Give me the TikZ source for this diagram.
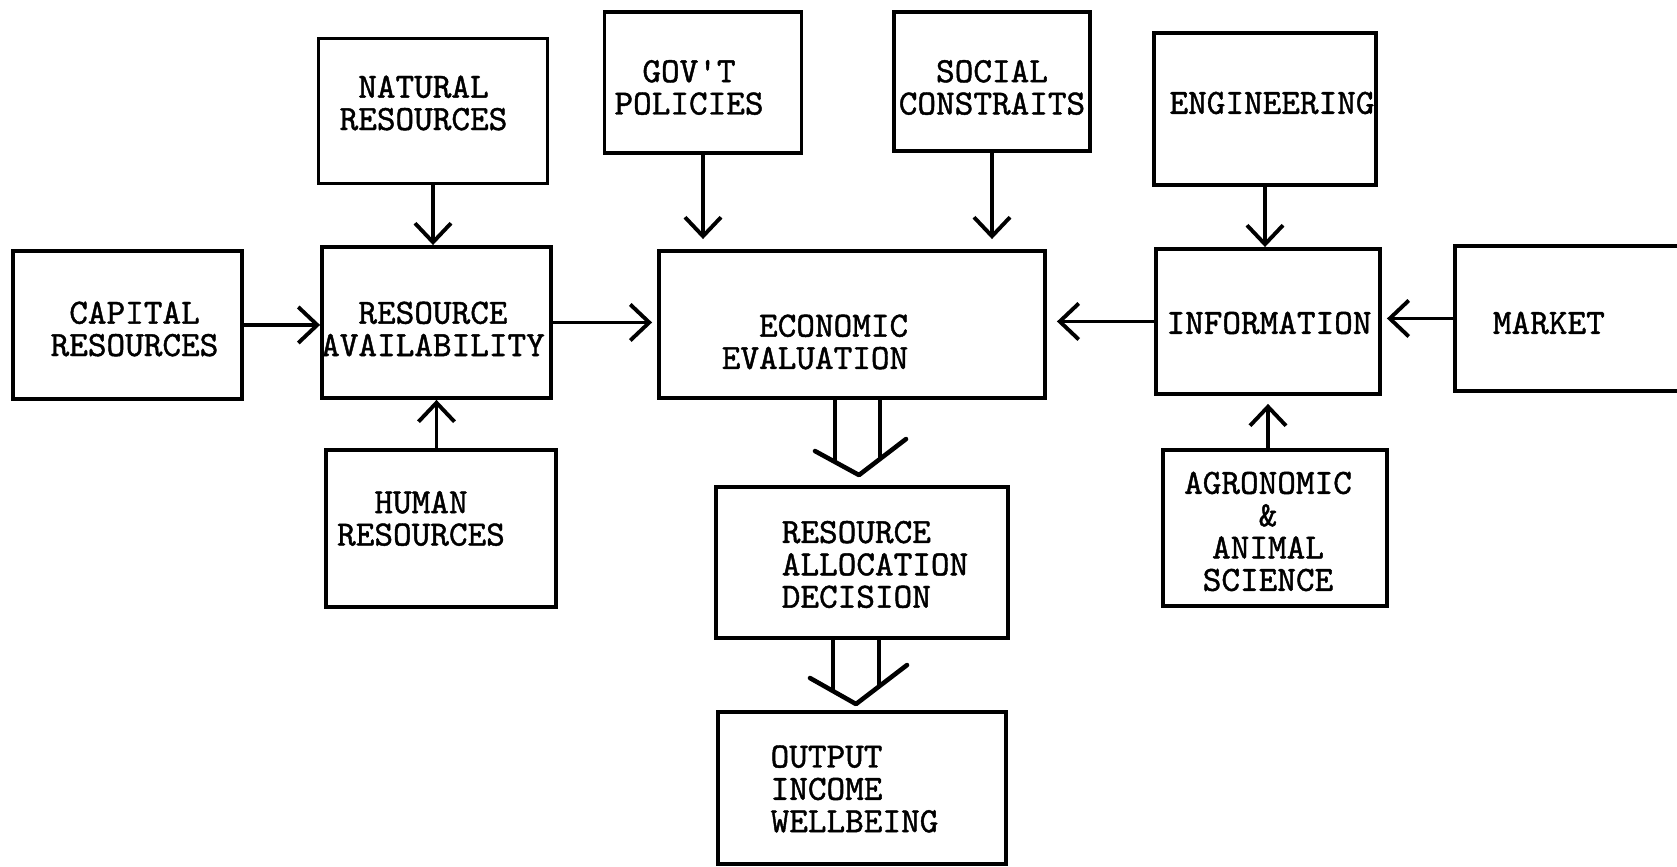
\documentclass[tikz,border=0pt]{standalone}
\usepackage{fontspec}
\newfontfamily\typew{Latin Modern Mono}[FakeBold=1.2]
\usepackage{tikz}
\usetikzlibrary{calc,arrows.meta,positioning}

\begin{document}
\begin{tikzpicture}[>={Straight Barb[length=1.9mm,width=3.6mm]}, line width=1.1pt,
  blk/.style={draw, rectangle, inner sep=0pt},
  txt/.style={align=center, inner sep=0pt, font=\typew\fontsize{10.1}{9.2}\selectfont}]
  \useasboundingbox (0,0) rectangle (16.77,8.67);
  \clip (0,0) rectangle (16.77,8.67);

   \node[blk, minimum width=2.29cm, minimum height=1.45cm] (NAT) at (4.33,7.56) {};
   \node[blk, minimum width=1.97cm, minimum height=1.41cm] (GOV) at (7.03,7.845) {};
   \node[blk, minimum width=1.96cm, minimum height=1.39cm] (SOC) at (9.92,7.855) {};
   \node[blk, minimum width=2.22cm, minimum height=1.52cm] (ENG) at (12.65,7.58) {};
   \node[blk, minimum width=2.29cm, minimum height=1.48cm] (CAP) at (1.275,5.42) {};
   \node[blk, minimum width=2.29cm, minimum height=1.51cm] (RA) at (4.365,5.445) {};
   \node[blk, minimum width=3.86cm, minimum height=1.47cm] (EE) at (8.52,5.425) {};
   \node[blk, minimum width=2.24cm, minimum height=1.45cm] (INF) at (12.68,5.455) {};
   \node[blk, anchor=west, minimum width=2.37cm, minimum height=1.45cm] (MKT) at (14.53,5.485) {};
   \node[blk, minimum width=2.30cm, minimum height=1.57cm] (HUM) at (4.41,3.385) {};
   \node[blk, minimum width=2.24cm, minimum height=1.56cm] (AGR) at (12.75,3.39) {};
   \node[blk, minimum width=2.92cm, minimum height=1.51cm] (RAD) at (8.62,3.045) {};
   \node[blk, minimum width=2.88cm, minimum height=1.52cm] (OUT) at (8.62,0.79) {};

   % typed labels, a little off centre as in the typescript
   \node[txt] (tNAT) at ([shift={(-0.095,0.08)}]NAT) {NATURAL\\RESOURCES};
   \node[txt] (tGOV) at ([shift={(-0.14,-0.05)}]GOV) {GOV'T\\POLICIES};
   \node[txt] (tSOC) at ([shift={(0,-0.06)}]SOC) {SOCIAL\\CONSTRAITS};
   \node[txt] (tENG) at ([shift={(0.07,0.06)}]ENG) {ENGINEERING};
   \node[txt] (tCAP) at ([shift={(0.07,-0.04)}]CAP) {CAPITAL\\RESOURCES};
   \node[txt] (tRA) at ([shift={(-0.035,-0.065)}]RA) {RESOURCE\\AVAILABILITY};
   \node[txt, align=right] (tEE) at ([shift={(-0.37,-0.175)}]EE) {ECONOMIC\\EVALUATION};
   \node[txt] (tINF) at ([shift={(0.01,-0.015)}]INF) {INFORMATION};
   \node[txt, anchor=west] (tMKT) at (14.91,5.44) {MARKET};
   \node[txt] (tHUM) at ([shift={(-0.20,0.10)}]HUM) {HUMAN\\RESOURCES};
   \node[txt] (tAGR) at ([shift={(-0.07,-0.035)}]AGR) {AGRONOMIC\\\&\\ANIMAL\\SCIENCE};
   \node[txt, align=left] (tRAD) at ([shift={(0.13,-0.02)}]RAD) {RESOURCE\\ALLOCATION\\DECISION};
   \node[txt, align=left] (tOUT) at ([shift={(-0.075,-0.01)}]OUT) {OUTPUT\\INCOME\\WELLBEING};

  \path[->]
    (NAT.south) edge (NAT.south |- RA.north)
    (RA.south |- HUM.north) edge (RA.south)
    (CAP.east) edge (CAP.east -| RA.west)
    (RA.east) edge [shorten >=0.5mm] (RA.east -| EE.west)
    (GOV.south) edge [shorten >=1mm] (GOV.south |- EE.north)
    (SOC.south) edge [shorten >=1mm] (SOC.south |- EE.north)
    (ENG.south) edge (ENG.south |- INF.north)
    (INF.west) edge [shorten >=1mm] (INF.west -| EE.east)
    (MKT.west) edge [shorten >=0.5mm] (MKT.west -| INF.east)
    (INF.south |- AGR.north) edge [shorten >=0.8mm] (INF.south);

  % wide arrows down the middle
  \coordinate (d1) at (RAD.north |- EE.south);
  \coordinate (d2) at (OUT.north |- RAD.south);
  \draw ([xshift=-2.7mm]d1) -- ([xshift=-2.7mm,yshift=2.3mm]RAD.north);
  \draw ([xshift=1.8mm]d1) -- ([xshift=1.8mm,yshift=2.6mm]RAD.north);
  \draw[line width=1.3pt, line cap=round, line join=round] ([xshift=-4.7mm,yshift=3.4mm]RAD.north)
    -- ([xshift=-0.3mm,yshift=1mm]RAD.north) -- ([xshift=4.4mm,yshift=4.6mm]RAD.north);
  \draw ([xshift=-2.9mm]d2) -- ([xshift=-2.9mm,yshift=1.9mm]OUT.north);
  \draw ([xshift=1.7mm]d2) -- ([xshift=1.7mm,yshift=2.4mm]OUT.north);
  \draw[line width=1.3pt, line cap=round, line join=round] ([xshift=-5.2mm,yshift=3.2mm]OUT.north)
    -- ([xshift=-0.6mm,yshift=0.6mm]OUT.north) -- ([xshift=4.5mm,yshift=4.5mm]OUT.north);
\end{tikzpicture}
\end{document}
